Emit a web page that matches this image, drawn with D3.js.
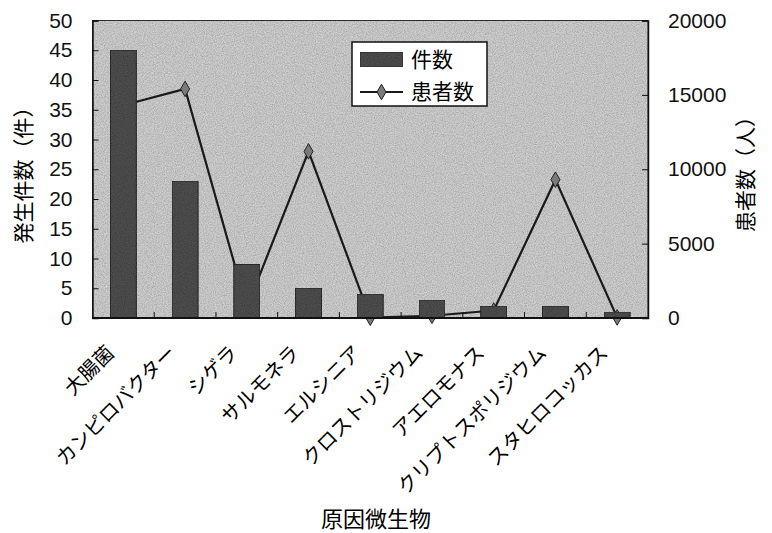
<!DOCTYPE html>
<html>
<head>
<meta charset="utf-8">
<script src="https://cdn.jsdelivr.net/npm/d3@7/dist/d3.min.js"></script>
<style>
  body { margin: 0; background: #fff; }
  text { font-family: "Liberation Sans", Arial, sans-serif; fill: #111; }
  .jp { font-family: "Noto Sans CJK JP", sans-serif; fill: #000; }
</style>
</head>
<body>
<svg id="svg"></svg>
<script>
"use strict";

var categories = ["大腸菌", "カンピロバクター", "シゲラ", "サルモネラ", "エルシニア",
                  "クロストリジウム", "アエロモナス", "クリプトスポリジウム", "スタヒロコッカス"];
var cases    = [45, 23, 9, 5, 4, 3, 2, 2, 1];
var patients = [14300, 15400, 700, 11200, 20, 150, 500, 9300, 40];
var leftTicks  = [0, 5, 10, 15, 20, 25, 30, 35, 40, 45, 50];
var rightTicks = [0, 5000, 10000, 15000, 20000];

var width = 772, height = 533,
    plot = {left: 92.5, right: 648, top: 20.5, bottom: 318};

var svg = d3.select("#svg").attr("width", width).attr("height", height);

// noisy grey texture like the scanned original
var defs = svg.append("defs");
var f = defs.append("filter").attr("id", "grain").attr("x", 0).attr("y", 0).attr("width", 1).attr("height", 1);
f.append("feTurbulence").attr("type", "fractalNoise").attr("baseFrequency", 0.9).attr("numOctaves", 2).attr("seed", 3).attr("result", "n");
f.append("feColorMatrix").attr("in", "n").attr("type", "matrix")
  .attr("values", "0 0 0 0 0  0 0 0 0 0  0 0 0 0 0  0 0 0 0.7 -0.2").attr("result", "a");
f.append("feComposite").attr("in", "a").attr("in2", "SourceGraphic").attr("operator", "in").attr("result", "g");
f.append("feMerge").call(function(m){
  m.append("feMergeNode").attr("in", "SourceGraphic");
  m.append("feMergeNode").attr("in", "g");
});

var x = d3.scaleBand().domain(categories).range([plot.left, plot.right]);
var yL = d3.scaleLinear().domain([0, 50]).range([plot.bottom, plot.top]);
var yR = d3.scaleLinear().domain([0, 20000]).range([plot.bottom, plot.top]);

// plot background
svg.append("rect")
  .attr("x", plot.left).attr("y", plot.top)
  .attr("width", plot.right - plot.left).attr("height", plot.bottom - plot.top)
  .attr("fill", "#d0d0d0").attr("stroke", "#333").attr("stroke-width", 1)
  .attr("filter", "url(#grain)");

// patients line
var line = d3.line()
  .x(function(d, i){ return x(categories[i]) + x.bandwidth()/2; })
  .y(function(d){ return yR(d); });

svg.append("path")
  .datum(patients)
  .attr("d", line)
  .attr("fill", "none")
  .attr("stroke", "#1a1a1a")
  .attr("stroke-width", 2.2);

var diamond = d3.symbol().type(d3.symbolDiamond).size(70);
svg.append("g").selectAll("path")
  .data(patients)
  .enter()
  .append("path")
  .attr("d", diamond)
  .attr("transform", function(d, i){
    return "translate(" + (x(categories[i]) + x.bandwidth()/2) + "," + yR(d) + ")";
  })
  .attr("fill", "#7a7a7a")
  .attr("stroke", "#222")
  .attr("stroke-width", 1);

// bars sit on top of the line, as in the original
var bw = x.bandwidth() * 0.42;
svg.append("g").selectAll("rect")
  .data(cases)
  .enter()
  .append("rect")
  .attr("x", function(d, i){ return x(categories[i]) + x.bandwidth()/2 - bw/2; })
  .attr("y", function(d){ return yL(d); })
  .attr("width", bw)
  .attr("height", function(d){ return plot.bottom - yL(d); })
  .attr("fill", "#505050")
  .attr("stroke", "#2a2a2a")
  .attr("filter", "url(#grain)");

// axes
var axL = svg.append("g")
  .attr("transform", "translate(" + plot.left + ",0)")
  .call(d3.axisLeft(yL).tickValues(leftTicks).tickSize(-6).tickPadding(20));
var axR = svg.append("g")
  .attr("transform", "translate(" + plot.right + ",0)")
  .call(d3.axisRight(yR).tickValues(rightTicks).tickFormat(d3.format("d")).tickSize(-6).tickPadding(20));
[axL, axR].forEach(function(a){
  a.select(".domain").attr("stroke", "#111").attr("stroke-width", 1.5);
  a.selectAll(".tick line").attr("stroke", "#111");
  a.selectAll(".tick text").attr("font-size", 21).attr("fill", "#111")
    .attr("font-family", "Liberation Sans, Arial, sans-serif");
});

// bottom axis line + separator ticks
svg.append("line")
  .attr("x1", plot.left).attr("x2", plot.right)
  .attr("y1", plot.bottom).attr("y2", plot.bottom)
  .attr("stroke", "#111").attr("stroke-width", 2);
svg.append("g").selectAll("line")
  .data(categories.slice(1))
  .enter()
  .append("line")
  .attr("x1", function(d){ return x(d); })
  .attr("x2", function(d){ return x(d); })
  .attr("y1", plot.bottom).attr("y2", plot.bottom - 6)
  .attr("stroke", "#111");

// category labels
svg.append("g").selectAll("text")
  .data(categories)
  .enter()
  .append("text")
  .attr("class", "jp")
  .attr("transform", function(d){
    return "translate(" + (x(d) + x.bandwidth()/2 - 8) + ",354) rotate(-45)";
  })
  .attr("text-anchor", "end")
  .attr("font-size", 20)
  .text(function(d){ return d; });

// axis titles
svg.append("text").attr("class", "jp")
  .attr("transform", "translate(31,170) rotate(-90)")
  .attr("text-anchor", "middle").attr("font-size", 21)
  .text("発生件数（件）");
svg.append("text").attr("class", "jp")
  .attr("transform", "translate(753,169) rotate(-90)")
  .attr("text-anchor", "middle").attr("font-size", 21)
  .text("患者数（人）");
svg.append("text").attr("class", "jp")
  .attr("x", 376).attr("y", 527)
  .attr("text-anchor", "middle").attr("font-size", 22)
  .text("原因微生物");

// legend
var lg = svg.append("g").attr("transform", "translate(352,42)");
lg.append("rect").attr("width", 135).attr("height", 64)
  .attr("fill", "#fff").attr("stroke", "#111").attr("stroke-width", 1.5);
lg.append("rect").attr("x", 8).attr("y", 10).attr("width", 43).attr("height", 15)
  .attr("fill", "#505050").attr("stroke", "#2a2a2a").attr("filter", "url(#grain)");
lg.append("line").attr("x1", 8).attr("x2", 51).attr("y1", 50).attr("y2", 50)
  .attr("stroke", "#1a1a1a").attr("stroke-width", 2);
lg.append("path").attr("d", diamond).attr("transform", "translate(29.5,50)")
  .attr("fill", "#7a7a7a").attr("stroke", "#222");
lg.append("text").attr("class", "jp").attr("x", 59).attr("y", 25)
  .attr("font-size", 21).text("件数");
lg.append("text").attr("class", "jp").attr("x", 59).attr("y", 57)
  .attr("font-size", 21).text("患者数");
</script>
</body>
</html>
